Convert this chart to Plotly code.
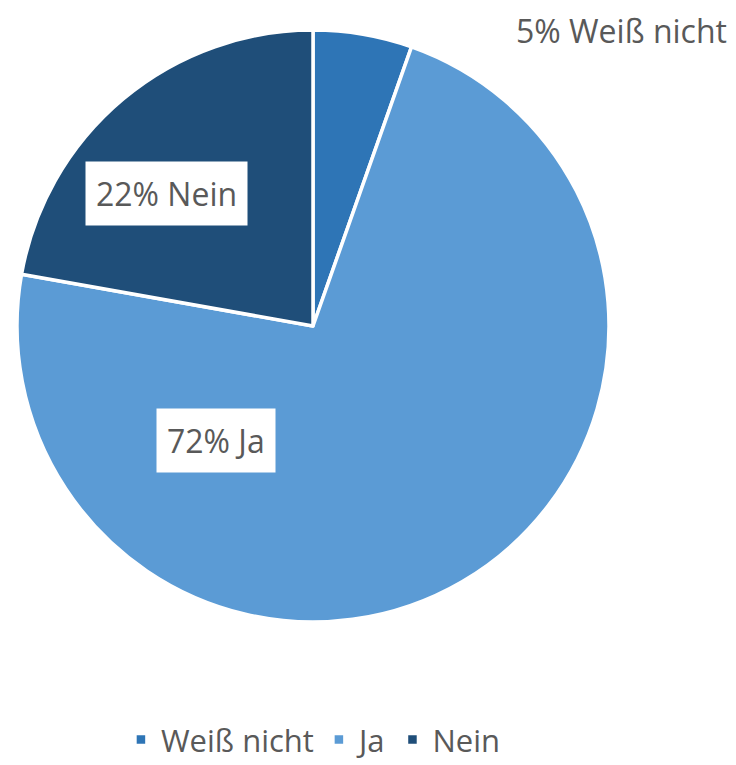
import plotly.graph_objects as go

labels = ["Weiß nicht", "Ja", "Nein"]
values = [5.4, 72.4, 22.2]
colors = ["#2E75B6", "#5B9BD5", "#1F4E79"]

W, H = 736, 765
OFF = 8  # page body margin offset in the rendered view
cx, cy, r = 313 - OFF, 326 - OFF, 296

total = sum(values)
texts = [f"{round(v / total * 100)}% {l}" for l, v in zip(labels, values)]

fig = go.Figure(go.Pie(
    labels=labels, values=values, sort=False, direction="clockwise", rotation=0,
    marker=dict(colors=colors, line=dict(color="white", width=3.5)),
    textinfo="none", hoverinfo="label+percent",
    domain=dict(x=[(cx - r) / W, (cx + r) / W], y=[(H - cy - r) / H, (H - cy + r) / H]),
))

font = dict(family="Open Sans, sans-serif", size=32, color="#595959")
# (x, y, anchor, boxed) label placements in reference pixels
label_pos = [(621, OFF, "top", False), (216, 440, "middle", True), (166, 193, "middle", True)]
for i in range(len(labels)):
    x, y, yanchor, boxed = label_pos[i]
    fig.add_annotation(
        x=(x - OFF) / W, y=1 - (y - OFF) / H, xref="paper", yref="paper", text=texts[i],
        showarrow=False, font=font, bgcolor="white" if boxed else "rgba(0,0,0,0)",
        borderpad=10 if boxed else 0, xanchor="center", yanchor=yanchor,
    )

fig.update_layout(
    width=W, height=H, margin=dict(l=0, r=0, t=0, b=0),
    paper_bgcolor="white", plot_bgcolor="white",
    showlegend=True,
    legend=dict(orientation="h", x=0.415, xanchor="center", y=0.008, yanchor="bottom",
                font=dict(family="Open Sans, sans-serif", size=31, color="#595959"),
                itemwidth=30, traceorder="normal"),
)

fig.write_html("out.html")
